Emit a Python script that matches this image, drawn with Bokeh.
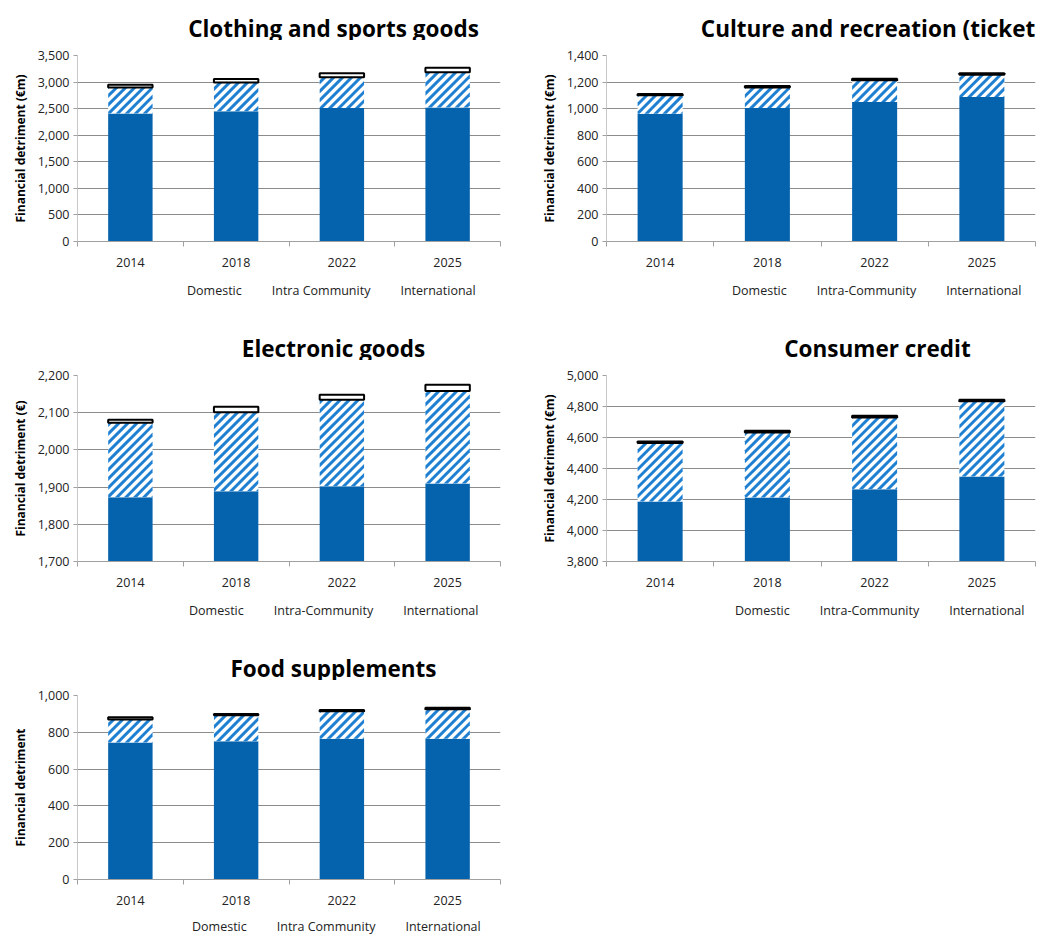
import math
from bokeh.plotting import figure
from bokeh.layouts import column, row
from bokeh.models import (Range1d, LinearAxis, FixedTicker, SingleIntervalTicker,
                          NumeralTickFormatter, Legend, LegendItem, Label, Spacer,
                          ColumnDataSource)
from bokeh.embed import file_html
from bokeh.resources import INLINE

years = ["2014", "2018", "2022", "2025"]

clothing_domestic = [2410, 2450, 2510, 2520]
clothing_intra = [490, 540, 580, 665]
clothing_intl = [50, 70, 75, 85]

culture_domestic = [962, 1005, 1050, 1088]
culture_intra = [138, 155, 163, 168]
culture_intl = [10, 10, 12, 10]

electronic_domestic = [1873, 1889, 1902, 1910]
electronic_intra = [200, 212, 233, 248]
electronic_intl = [8, 15, 13, 17]

credit_domestic = [4187, 4213, 4266, 4348]
credit_intra = [378, 419, 463, 486]
credit_intl = [9, 11, 11, 9]

food_domestic = [745, 752, 765, 765]
food_intra = [125, 140, 149, 160]
food_intl = [12, 8, 7, 9]

DOMESTIC = "#0563AD"
HATCH = "#1F80D2"
GRID = "#8C8C8C"
FONT = "Open Sans"
BAR_W = 0.42
STRIPE_PERIOD = 9.0   # px between diagonal stripes
STRIPE_BAND = 4.2     # px of stripe width (horizontal)

# category slots: one unit per year, bars centred in each slot
slot_centers = [i + 0.5 for i in range(len(years))]
slot_edges = list(range(len(years) + 1))


def clip_polygon(poly, u0, u1, v0, v1):
    """Sutherland-Hodgman clip of a polygon to an axis-aligned rectangle."""
    def clip(pts, inside, inter):
        out = []
        n = len(pts)
        for i in range(n):
            a, b = pts[i], pts[(i + 1) % n]
            ia, ib = inside(a), inside(b)
            if ia:
                out.append(a)
                if not ib:
                    out.append(inter(a, b))
            elif ib:
                out.append(inter(a, b))
        return out

    def ix(a, b, u):
        t = (u - a[0]) / (b[0] - a[0])
        return (u, a[1] + t * (b[1] - a[1]))

    def iy(a, b, v):
        t = (v - a[1]) / (b[1] - a[1])
        return (a[0] + t * (b[0] - a[0]), v)

    pts = poly
    for inside, inter in (
            (lambda p: p[0] >= u0, lambda a, b: ix(a, b, u0)),
            (lambda p: p[0] <= u1, lambda a, b: ix(a, b, u1)),
            (lambda p: p[1] >= v0, lambda a, b: iy(a, b, v0)),
            (lambda p: p[1] <= v1, lambda a, b: iy(a, b, v1))):
        if not pts:
            break
        pts = clip(pts, inside, inter)
    return pts


def stripes(bottoms, tops, ymin, ymax, frame_w, frame_h):
    """Diagonal '/' stripe polygons (data coordinates) filling each bar segment."""
    sx = frame_w / len(years)
    sy = frame_h / (ymax - ymin)
    xs, ys = [], []
    for c, b, t in zip(slot_centers, bottoms, tops):
        u0, u1 = (c - BAR_W / 2) * sx, (c + BAR_W / 2) * sx
        v0, v1 = (max(b, ymin) - ymin) * sy, (min(t, ymax) - ymin) * sy
        if v1 <= v0:
            continue
        k = math.floor((u0 - v1) / STRIPE_PERIOD) * STRIPE_PERIOD
        while k < u1 - v0:
            lo, hi = v0 - 1, v1 + 1
            band = [(k + lo, lo), (k + STRIPE_BAND + lo, lo),
                    (k + STRIPE_BAND + hi, hi), (k + hi, hi)]
            poly = clip_polygon(band, u0, u1, v0, v1)
            if len(poly) >= 3:
                xs.append([p[0] / sx for p in poly])
                ys.append([p[1] / sy + ymin for p in poly])
            k += STRIPE_PERIOD
    return xs, ys


def blank_figure(width, height):
    f = figure(width=width, height=height, output_backend="svg", toolbar_location=None,
               x_range=Range1d(0, 1), y_range=Range1d(0, 1),
               x_axis_location=None, y_axis_location=None, min_border=0)
    f.outline_line_color = None
    f.grid.visible = False
    return f


def title_strip(text, width, center_x):
    f = blank_figure(width, 40)
    f.add_layout(Label(x=center_x, y=12, x_units="screen", y_units="screen", text=text,
                       text_align="center", text_baseline="alphabetic",
                       text_font=FONT, text_font_style="bold",
                       text_font_size="22.5px", text_color="black"))
    return f


def legend_strip(intra_label, width, height, x0, y0):
    f = blank_figure(width, height)
    r_dom = f.vbar(x=[], top=[], width=0.1, fill_color=DOMESTIC, line_color=None)
    r_intra = f.patches(xs=[], ys=[], fill_color=HATCH, line_color=None)
    r_intl = f.vbar(x=[], top=[], width=0.1, fill_color="white",
                    line_color="black", line_width=2)
    legend = Legend(items=[LegendItem(label="Domestic", renderers=[r_dom]),
                           LegendItem(label=intra_label, renderers=[r_intra]),
                           LegendItem(label="International", renderers=[r_intl])],
                    orientation="horizontal", location=(x0, y0),
                    border_line_color=None, background_fill_alpha=0,
                    label_text_font=FONT, label_text_font_size="12.5px",
                    label_text_color="#222222", glyph_width=8, glyph_height=8,
                    label_standoff=4, spacing=18, padding=0, margin=0)
    f.add_layout(legend)
    return f


def bar_chart(ylabel, domestic, intra, intl, ymin, ymax, step, left_side, frame_h):
    frame_w = 423 if left_side else 429
    p = figure(frame_width=frame_w, frame_height=frame_h,
               output_backend="svg", toolbar_location=None,
               x_range=Range1d(0, len(years)), y_range=Range1d(ymin, ymax),
               x_axis_location=None,
               min_border_left=77 if left_side else 88,
               min_border_right=18 if left_side else 2,
               min_border_top=15, min_border_bottom=32)
    p.outline_line_color = None
    p.xgrid.grid_line_color = None
    p.ygrid.grid_line_color = GRID
    p.ygrid.ticker = SingleIntervalTicker(interval=step)
    p.background_fill_color = "white"

    src = ColumnDataSource(dict(x=slot_centers, Domestic=domestic, Intra=intra, Intl=intl))
    rs = p.vbar_stack(["Domestic", "Intra", "Intl"], x="x", width=BAR_W, source=src,
                      fill_color=[DOMESTIC, "white", "white"],
                      line_color=[None, None, "black"],
                      line_width=[0, 0, 2])
    # the international caps go on top of the stripes
    rs[2].level = "overlay"

    intra_top = [d + i for d, i in zip(domestic, intra)]
    sxs, sys_ = stripes(list(domestic), intra_top, ymin, ymax, frame_w, frame_h)
    p.patches(sxs, sys_, fill_color=HATCH, line_color=None)

    # y axis
    ya = p.yaxis[0]
    ya.ticker = SingleIntervalTicker(interval=step)
    ya.formatter = NumeralTickFormatter(format="0,0")
    ya.axis_line_color = "#C8C8C8"
    ya.major_tick_line_color = "#A0A0A0"
    ya.major_tick_out = 4
    ya.major_tick_in = 0
    ya.minor_tick_line_color = None
    ya.major_label_text_font = FONT
    ya.major_label_text_font_size = "12.5px"
    ya.major_label_text_color = "#222222"
    ya.major_label_standoff = 4
    ya.axis_label = ylabel
    ya.axis_label_text_font = FONT
    ya.axis_label_text_font_style = "bold"
    ya.axis_label_text_font_size = "12px"
    ya.axis_label_text_color = "black"
    ya.axis_label_standoff = 6

    # axis line with separator ticks between the categories
    sep = LinearAxis(ticker=FixedTicker(ticks=slot_edges),
                     major_label_overrides={e: "" for e in slot_edges},
                     axis_line_color="#A0A0A0", major_tick_line_color="#A0A0A0",
                     major_tick_out=5, major_tick_in=0, minor_tick_line_color=None,
                     major_label_text_font_size="1px", major_label_standoff=0)
    p.add_layout(sep, "below")

    # year labels centred under each bar
    cat = LinearAxis(ticker=FixedTicker(ticks=slot_centers),
                     major_label_overrides={c: y for c, y in zip(slot_centers, years)},
                     axis_line_color=None, major_tick_line_color=None,
                     minor_tick_line_color=None,
                     major_label_text_font=FONT, major_label_text_font_size="12.5px",
                     major_label_text_color="#222222", major_label_standoff=5)
    p.add_layout(cat, "below")
    return p


def panel(title, ylabel, domestic, intra, intl, intra_label, ymin, ymax, step,
          left_side, frame_h, legend_h, legend_x, legend_y):
    width = 518 if left_side else 519
    return column(title_strip(title, width, 256 if left_side else 271),
                  bar_chart(ylabel, domestic, intra, intl, ymin, ymax, step,
                            left_side, frame_h),
                  legend_strip(intra_label, width, legend_h, legend_x, legend_y))


c1 = panel("Clothing and sports goods", "Financial detriment (€m)",
           clothing_domestic, clothing_intra, clothing_intl, "Intra Community",
           0, 3500, 500, True, 186, 47, 98, 21)
c2 = panel("Culture and recreation (tickets)", "Financial detriment (€m)",
           culture_domestic, culture_intra, culture_intl, "Intra-Community",
           0, 1400, 200, False, 186, 47, 114, 21)
c3 = panel("Electronic goods", "Financial detriment (€)",
           electronic_domestic, electronic_intra, electronic_intl, "Intra-Community",
           1700, 2200, 100, True, 186, 47, 100, 21)
c4 = panel("Consumer credit", "Financial detriment (€m)",
           credit_domestic, credit_intra, credit_intl, "Intra-Community",
           3800, 5000, 200, False, 186, 47, 117, 21)
c5 = panel("Food supplements", "Financial detriment",
           food_domestic, food_intra, food_intl, "Intra Community",
           0, 1000, 200, True, 184, 25, 103, 1)

layout = column(row(c1, c2), row(c3, c4), row(c5, Spacer(width=519, height=296)))

open("out.html", "w").write(file_html(layout, INLINE))
